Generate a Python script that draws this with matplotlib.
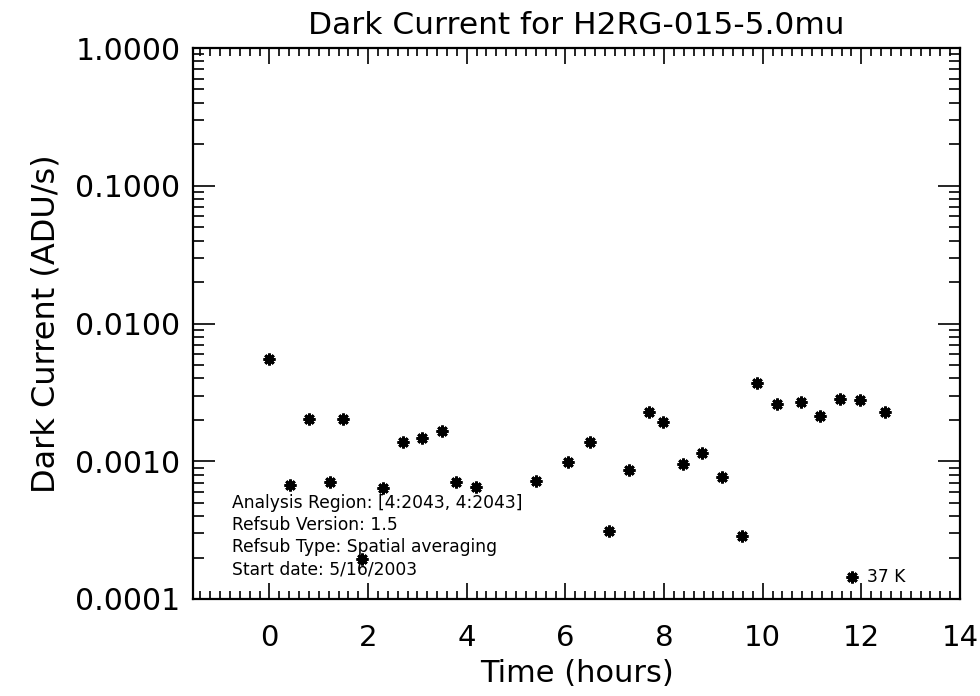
import numpy as np
import matplotlib
matplotlib.use("Agg")
import matplotlib.pyplot as plt
from matplotlib.ticker import FixedLocator, MultipleLocator, LogLocator, NullFormatter

# time (hours) and dark current (ADU/s)
hours = [0.00, 0.41, 0.81, 1.22, 1.49, 1.88, 2.30, 2.70, 3.10, 3.50, 3.79, 4.19,
         5.41, 6.06, 6.49, 6.89, 7.29, 7.69, 7.98, 8.39, 8.77, 9.18, 9.59, 9.88,
         10.28, 10.77, 11.17, 11.57, 11.97, 12.47]
dark = [0.00552, 0.000673, 0.00202, 0.000711, 0.00204, 0.000194, 0.000636, 0.00139,
        0.00147, 0.00166, 0.000711, 0.000647, 0.000723, 0.00098, 0.00139, 0.000313,
        0.000864, 0.00227, 0.00194, 0.000955, 0.00114, 0.000773, 0.000288, 0.00368,
        0.00260, 0.00268, 0.00214, 0.00283, 0.00280, 0.00227]
info = ["Analysis Region: [4:2043, 4:2043]", "Refsub Version: 1.5",
        "Refsub Type: Spatial averaging", "Start date: 5/16/2003"]
temp_label = "37 K"

fig = plt.figure(figsize=(9.8, 6.96), dpi=100)
ax = fig.add_axes([193 / 980, 1 - 599 / 696, (960 - 193) / 980, (599 - 48) / 696])
mk = dict(marker=(8, 2, 0), ms=8.5, mew=2, color="black", ls="none")
ax.plot(hours, dark, **mk)
ax.set_yscale("log")
ax.set_xlim(-1.55, 14)
ax.set_ylim(1e-4, 1)

ax.xaxis.set_major_locator(MultipleLocator(2))
ax.xaxis.set_minor_locator(MultipleLocator(0.2))
ax.yaxis.set_major_locator(FixedLocator([1e-4, 1e-3, 1e-2, 1e-1, 1]))
ax.yaxis.set_minor_locator(LogLocator(base=10, subs=np.arange(2, 10)))
ax.yaxis.set_minor_formatter(NullFormatter())
ax.set_yticklabels(["0.0001", "0.0010", "0.0100", "0.1000", "1.0000"])
ax.tick_params(axis="both", which="both", direction="in", top=True, right=True, width=1.2)
ax.tick_params(axis="x", which="major", length=11.5, pad=18, labelsize=21)
ax.tick_params(axis="x", which="minor", length=5.8)
ax.tick_params(axis="y", which="major", length=16, pad=9, labelsize=21.5)
ax.tick_params(axis="y", which="minor", length=8)
for s in ax.spines.values():
    s.set_linewidth(1.6)

ax.set_xlabel("Time (hours)", fontsize=22, labelpad=5)
ax.set_ylabel("Dark Current (ADU/s)", fontsize=23, labelpad=10)
ax.set_title("Dark Current for H2RG-015-5.0mu", fontsize=22.5, pad=10)

for i, t in enumerate(info):
    fig.text(232 / 980, 1 - (503 + 22 * i) / 696, t, fontsize=12.3, va="center")

ax.plot([11.81], [1.45e-4], **mk)
ax.text(12.12, 1.45e-4, temp_label, fontsize=12.3, va="center")

fig.savefig("out.png", dpi=100)
